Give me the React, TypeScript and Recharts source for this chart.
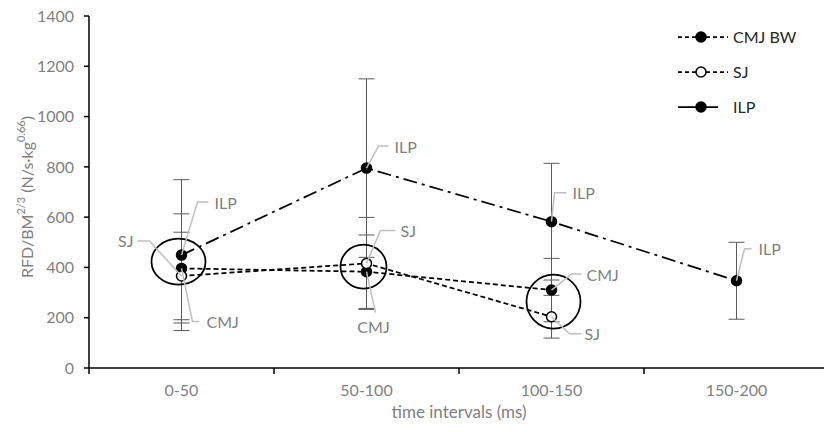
import React from 'react';
import { LineChart, Line, XAxis, YAxis, ErrorBar, LabelList, ReferenceDot, Legend } from 'recharts';

const categories = ['0-50', '50-100', '100-150', '150-200'];
const cmjBW = [396, 383, 310, null];
const cmjBWErr = [217, 146, 126, null];
const sjValues = [366, 416, 204, null];
const sjErr = [174, 183, 85, null];
const ilpValues = [449, 795, 582, 347];
const ilpErr = [300, 355, 232, 153];
const yTicks = [0, 200, 400, 600, 800, 1000, 1200, 1400];
const calloutNames = { cmj: 'CMJ', sj: 'SJ', ilp: 'ILP' };

// highlight circles drawn around point groups (category index, value at centre)
const highlightCategory = [0, 1, 2];
const highlightValue = [423, 403, 264];
const highlightShape = [
  { rx: 27, ry: 23, dx: -3 },
  { rx: 23, ry: 22, dx: -3 },
  { rx: 27, ry: 27, dx: 2 },
];

const FONT = 'Lato, "Open Sans", sans-serif';
const GRAY = '#7f7f7f';

const data = categories.map((c, i) => ({
  x: i + 0.5,
  label: c,
  cmj: cmjBW[i],
  cmjErr: cmjBWErr[i],
  sj: sjValues[i],
  sjErr: sjErr[i],
  ilp: ilpValues[i],
  ilpErr: ilpErr[i],
}));

const xTicks = [0, 0.5, 1, 1.5, 2, 2.5, 3, 3.5, 4];

type Callout = { ex: number; ey: number; hx: number; tx: number; ty: number; anchor?: 'start' | 'end' | 'middle' } | null;

const callouts: Record<string, Callout[]> = {
  ilp: [
    { ex: 16, ey: -53, hx: 27, tx: 33, ty: -53 },
    { ex: 12, ey: -22, hx: 22, tx: 28, ty: -22 },
    { ex: 3, ey: -29, hx: 15, tx: 21, ty: -29 },
    { ex: 8, ey: -32, hx: 15, tx: 22, ty: -32 },
  ],
  cmj: [
    { ex: 11, ey: 53, hx: 18, tx: 25, ty: 53 },
    { ex: 9, ey: 41, hx: 9, tx: 7, ty: 55, anchor: 'middle' },
    { ex: 20, ey: -16, hx: 30, tx: 35, ty: -16 },
    null,
  ],
  sj: [
    { ex: -32, ey: -35, hx: -44, tx: -48, ty: -35, anchor: 'end' },
    { ex: 14, ey: -33, hx: 29, tx: 34, ty: -33 },
    { ex: 18, ey: 17, hx: 30, tx: 33, ty: 17 },
    null,
  ],
};

const makeCallout = (key: string) => (props: any) => {
  const { x, y, value, index } = props;
  if (value == null || x == null || y == null) return null;
  const c = callouts[key][index];
  if (!c) return null;
  const pts = `${x},${y} ${x + c.ex},${y + c.ey} ${x + c.hx},${y + c.ey}`;
  return (
    <g>
      <polyline points={pts} fill="none" stroke="#bfbfbf" strokeWidth={1.5} />
      <text
        x={x + c.tx}
        y={y + c.ty}
        textAnchor={c.anchor || 'start'}
        dominantBaseline="central"
        fill={GRAY}
        fontSize={16}
        fontFamily={FONT}
      >
        {calloutNames[key]}
      </text>
    </g>
  );
};

const seriesDefs = [
  { key: 'cmj', name: 'CMJ BW', dash: '5 3', legendDash: '4 3', fill: '#000' },
  { key: 'sj', name: 'SJ', dash: '5 3', legendDash: '4 3', fill: '#fff' },
  { key: 'ilp', name: 'ILP', dash: '14 5 3 5', legendDash: undefined, fill: '#000' },
];

const XTick = (props: any) => {
  const { x, y, payload } = props;
  const v = payload.value;
  if (Number.isInteger(v)) {
    return <line x1={x} x2={x} y1={y} y2={y + 6} stroke="#000" strokeWidth={1.5} />;
  }
  return (
    <text x={x} y={y + 21} textAnchor="middle" dominantBaseline="central" fill={GRAY} fontSize={16} fontFamily={FONT}>
      {categories[Math.floor(v)]}
    </text>
  );
};

const YLabel = (props: any) => {
  const vb = props.viewBox;
  const cx = vb.x + 26;
  const cy = vb.y + vb.height / 2 + 5;
  return (
    <text
      transform={`translate(${cx},${cy}) rotate(-90)`}
      textAnchor="middle"
      dominantBaseline="central"
      fill={GRAY}
      fontSize={16}
      fontFamily={FONT}
    >
      RFD/BM<tspan dy={-6} fontSize={11}>2/3</tspan>
      <tspan dy={6}> (N/s·kg</tspan>
      <tspan dy={-6} fontSize={11}>0.66</tspan>
      <tspan dy={6}>)</tspan>
    </text>
  );
};

const XLabel = (props: any) => {
  const vb = props.viewBox;
  return (
    <text
      x={vb.x + vb.width / 2}
      y={vb.y + 43}
      textAnchor="middle"
      dominantBaseline="central"
      fill={GRAY}
      fontSize={17}
      fontFamily={FONT}
    >
      time intervals (ms)
    </text>
  );
};

const LegendContent = () => (
  <div style={{ display: 'flex', flexDirection: 'column', fontFamily: FONT, fontSize: 16, color: '#262626' }}>
    {seriesDefs.map((s) => (
      <div key={s.key} style={{ height: 35, display: 'flex', alignItems: 'center' }}>
        <svg width={54} height={14} style={{ display: 'block' }}>
          <line
            x1={2}
            x2={s.legendDash ? 52 : 42}
            y1={7}
            y2={7}
            stroke="#000"
            strokeWidth={1.75}
            strokeDasharray={s.legendDash}
          />
          <circle cx={25} cy={7} r={5} fill={s.fill} stroke="#000" strokeWidth={1.5} />
        </svg>
        <span style={{ marginLeft: 3 }}>{s.name}</span>
      </div>
    ))}
  </div>
);

export default function App() {
  return (
    <div style={{ position: 'absolute', left: 0, top: 0, width: 824, height: 432, overflow: 'hidden', background: '#fff' }}>
      <LineChart width={840} height={432} data={data} margin={{ top: 16, right: 11, left: 0, bottom: 0 }}>
        <XAxis
          type="number"
          dataKey="x"
          domain={[0, 4]}
          ticks={xTicks}
          interval={0}
          tick={<XTick />}
          tickLine={false}
          tickSize={0}
          tickMargin={0}
          height={64}
          axisLine={{ stroke: '#000', strokeWidth: 1.5 }}
          label={<XLabel />}
        />
        <YAxis
          type="number"
          domain={[0, 1400]}
          ticks={yTicks}
          interval={0}
          width={89}
          tickSize={5}
          tickMargin={10}
          tick={{ fill: GRAY, fontSize: 16, fontFamily: FONT }}
          tickLine={{ stroke: '#000', strokeWidth: 1.5 }}
          axisLine={{ stroke: '#000', strokeWidth: 1.5 }}
          label={<YLabel />}
        />
        <Legend
          layout="horizontal"
          align="center"
          verticalAlign="middle"
          content={<LegendContent />}
          wrapperStyle={{ left: 676, top: 19, width: 140 }}
        />
        {seriesDefs.map((s) => (
          <Line
            key={s.key}
            dataKey={s.key}
            name={s.name}
            stroke="#000"
            strokeWidth={1.75}
            strokeDasharray={s.dash}
            isAnimationActive={false}
            dot={{ r: 5, fill: s.fill, stroke: '#000', strokeWidth: 1.5, strokeDasharray: '' }}
            activeDot={false}
          >
            <ErrorBar dataKey={`${s.key}Err`} width={8} stroke="#595959" strokeWidth={1} direction="y" isAnimationActive={false} />
            <LabelList dataKey={s.key} content={makeCallout(s.key)} />
          </Line>
        ))}
        {highlightCategory.map((ci, i) => (
          <ReferenceDot
            key={ci}
            x={ci + 0.5}
            y={highlightValue[i]}
            r={1}
            shape={(p: any) => (
              <ellipse
                cx={p.cx + highlightShape[i].dx}
                cy={p.cy}
                rx={highlightShape[i].rx}
                ry={highlightShape[i].ry}
                fill="none"
                stroke="#000"
                strokeWidth={1.75}
              />
            )}
          />
        ))}
      </LineChart>
    </div>
  );
}
